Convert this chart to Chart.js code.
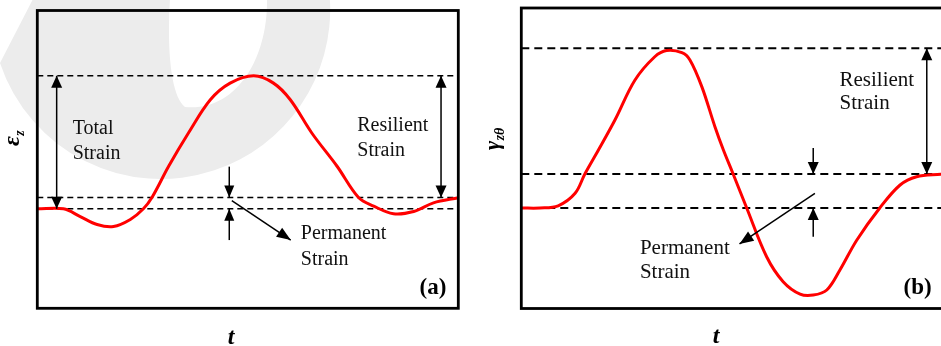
<!DOCTYPE html>
<html><head><meta charset="utf-8">
<script src="https://cdn.jsdelivr.net/npm/chart.js@4/dist/chart.umd.min.js"></script>
<style>
html,body{margin:0;padding:0;background:#fff;overflow:hidden;width:941px;height:346px;}
#wa{position:absolute;left:0;top:0;width:470px;height:346px;}
#wb{position:absolute;left:470px;top:0;width:500px;height:346px;}
canvas{display:block;}
</style></head><body>
<div id="wa"><canvas id="ca" width="470" height="346"></canvas></div>
<div id="wb"><canvas id="cb" width="500" height="346"></canvas></div>
<script>
// ---- Panel (a): axial strain eps_z vs time t ----
const timeA   = [0, 0.62, 1.02, 1.42, 1.81, 2.21, 2.52, 2.73, 3.12, 3.59, 4.11, 4.58, 5.14, 5.61, 6.01, 6.52, 7.12, 7.63, 7.99, 8.46, 8.94, 9.41, 10];
const strainA = [0, 0, -0.058, -0.118, -0.133, -0.080, 0, 0.089, 0.32, 0.57, 0.82, 0.945, 1.0, 0.945, 0.82, 0.57, 0.32, 0.085, 0.02, -0.037, -0.020, 0.045, 0.083];
const levelsA = [1.0, 0.085, 0];      // peak, end (permanent), start

// ---- Panel (b): shear strain gamma_ztheta vs time t ----
const timeB   = [0, 0.44, 0.87, 1.27, 1.50, 1.82, 2.21, 2.68, 3.15, 3.43, 3.79, 3.98, 4.26, 4.57, 4.77, 5.00, 5.32, 5.79, 6.18, 6.58, 6.89, 7.21, 7.52, 7.92, 8.46, 8.94, 9.33, 9.90, 10];
const strainB = [0, 0, 0.014, 0.092, 0.213, 0.363, 0.551, 0.80, 0.947, 0.986, 0.972, 0.927, 0.760, 0.509, 0.363, 0.213, 0, -0.305, -0.461, -0.539, -0.545, -0.513, -0.388, -0.200, 0, 0.144, 0.196, 0.211, 0.213];
const levelsB = [1.0, 0.213, 0];

const SERIF = '"Liberation Serif","Times New Roman",serif';

function head(ctx, fx, fy, tx, ty, L, W) {
  const a = Math.atan2(ty - fy, tx - fx), c = Math.cos(a), s = Math.sin(a);
  ctx.beginPath();
  ctx.moveTo(tx, ty);
  ctx.lineTo(tx - L * c + W / 2 * s, ty - L * s - W / 2 * c);
  ctx.lineTo(tx - L * c - W / 2 * s, ty - L * s + W / 2 * c);
  ctx.closePath();
  ctx.fill();
}

const notesPlugin = {
  id: 'strainNotes',
  beforeDraw(chart, args, o) {
    if (!o.watermark) return;
    const ctx = chart.ctx;
    ctx.save();
    ctx.fillStyle = '#ececec';
    ctx.beginPath();
    ctx.moveTo(33, -1);
    ctx.lineTo(0, 63);
    ctx.arc(160.8, 9.6, 169.4, 2.82, -0.0567, true);
    ctx.lineTo(267, -1);
    ctx.bezierCurveTo(268, 60, 235, 112, 185, 107);
    ctx.bezierCurveTo(170, 95, 167, 45, 170, -1);
    ctx.closePath();
    ctx.fill();
    ctx.restore();
  },
  afterDraw(chart, args, o) {
    const ctx = chart.ctx, ca = chart.chartArea, X = chart.scales.x, Y = chart.scales.y;
    ctx.save();
    // frame
    ctx.strokeStyle = '#000';
    ctx.lineWidth = 2.8;
    ctx.strokeRect(ca.left, ca.top, ca.right - ca.left, ca.bottom - ca.top);
    // arrows
    ctx.fillStyle = '#000';
    ctx.lineWidth = 1.5;
    for (const a of o.arrows) {
      const x1 = X.getPixelForValue(a.from[0]), y1 = Y.getPixelForValue(a.from[1]);
      const x2 = X.getPixelForValue(a.to[0]), y2 = Y.getPixelForValue(a.to[1]);
      ctx.beginPath(); ctx.moveTo(x1, y1); ctx.lineTo(x2, y2); ctx.stroke();
      head(ctx, x1, y1, x2, y2, a.L || 12, a.W || 10);
      if (a.both) head(ctx, x2, y2, x1, y1, a.L || 12, a.W || 10);
    }
    // texts
    ctx.textBaseline = 'alphabetic';
    ctx.textAlign = 'left';
    ctx.fillStyle = '#111';
    ctx.font = o.textSize + 'px ' + SERIF;
    for (const t of o.texts) {
      ctx.fillText(t.text, X.getPixelForValue(t.at[0]), Y.getPixelForValue(t.at[1]));
    }
    // panel tag
    ctx.fillStyle = '#000';
    ctx.font = 'bold 23px ' + SERIF;
    ctx.textAlign = 'right';
    ctx.fillText(o.tag, ca.right - o.tagInset[0], ca.bottom - o.tagInset[1]);
    // x-axis title
    ctx.font = 'italic bold 24px ' + SERIF;
    ctx.textAlign = 'center';
    ctx.fillText(o.xTitle, o.xTitlePos[0], o.xTitlePos[1]);
    // y-axis title (rotated, with subscript)
    ctx.translate(o.yTitlePos[0], o.yTitlePos[1]);
    ctx.rotate(-Math.PI / 2);
    ctx.textAlign = 'left';
    ctx.font = 'italic bold ' + o.yMainSize + 'px ' + SERIF;
    ctx.fillText(o.yMain, 0, 0);
    const w = ctx.measureText(o.yMain).width;
    ctx.font = 'italic bold 14px ' + SERIF;
    ctx.fillText(o.ySub, w + 0.5, 5);
    ctx.restore();
  }
};

function xy(xs, ys) { return xs.map((x, i) => ({ x: x, y: ys[i] })); }

function makeChart(id, times, strains, levels, cfg) {
  const datasets = [{
    data: xy(times, strains), borderColor: '#ff0000', borderWidth: 3,
    pointRadius: 0, tension: 0.35, fill: false
  }];
  levels.forEach(l => datasets.push({
    data: [{ x: 0, y: l }, { x: 10, y: l }], borderColor: '#000',
    borderWidth: cfg.dashWidth, borderDash: cfg.dash, pointRadius: 0, fill: false
  }));
  return new Chart(document.getElementById(id), {
    type: 'line',
    data: { datasets: datasets },
    options: {
      responsive: false, animation: false, events: [],
      layout: { padding: cfg.padding },
      scales: {
        x: { type: 'linear', min: 0, max: 10, display: false },
        y: { type: 'linear', min: cfg.ymin, max: cfg.ymax, display: false }
      },
      plugins: { legend: { display: false }, tooltip: { enabled: false }, strainNotes: cfg.notes }
    },
    plugins: [notesPlugin]
  });
}

makeChart('ca', timeA, strainA, levelsA, {
  padding: { left: 37.3, top: 10.5, right: 11.7, bottom: 37.7 },
  ymin: -0.748, ymax: 1.491, dash: [6, 4], dashWidth: 1.4,
  notes: {
    watermark: true,
    textSize: 20,
    tag: '(a)', tagInset: [12, 14.5],
    xTitle: 't', xTitlePos: [231, 344],
    yMain: 'ε', ySub: 'z', yMainSize: 24, yTitlePos: [18.5, 146],
    arrows: [
      { from: [0.46, 1.0], to: [0.46, 0], both: true, L: 12, W: 11 },
      { from: [9.59, 1.0], to: [9.59, 0.085], both: true, L: 12, W: 11 },
      { from: [4.56, 0.317], to: [4.56, 0.085], L: 12, W: 10 },
      { from: [4.56, -0.235], to: [4.56, 0], L: 12, W: 10 },
      { from: [4.62, 0.061], to: [6.02, -0.235], L: 14, W: 11 }
    ],
    texts: [
      { text: 'Total', at: [0.84, 0.564] },
      { text: 'Strain', at: [0.84, 0.374] },
      { text: 'Resilient', at: [7.60, 0.587] },
      { text: 'Strain', at: [7.60, 0.397] },
      { text: 'Permanent', at: [6.26, -0.227] },
      { text: 'Strain', at: [6.26, -0.423] }
    ]
  }
});

makeChart('cb', timeB, strainB, levelsB, {
  padding: { left: 51.3, top: 8, right: 25, bottom: 37.5 },
  ymin: -0.629, ymax: 1.252, dash: [8, 5], dashWidth: 2,
  notes: {
    watermark: false,
    textSize: 21,
    tag: '(b)', tagInset: [13.3, 14.5],
    xTitle: 't', xTitlePos: [246, 343],
    yMain: 'γ', ySub: 'zθ', yMainSize: 22, yTitlePos: [28.5, 150],
    arrows: [
      { from: [9.57, 1.0], to: [9.57, 0.213], both: true, L: 12, W: 11 },
      { from: [6.89, 0.376], to: [6.89, 0.213], L: 12, W: 11 },
      { from: [6.89, -0.18], to: [6.89, 0], L: 12, W: 11 },
      { from: [6.93, 0.092], to: [5.15, -0.225], L: 14, W: 11 }
    ],
    texts: [
      { text: 'Resilient', at: [7.51, 0.766] },
      { text: 'Strain', at: [7.51, 0.618] },
      { text: 'Permanent', at: [2.80, -0.288] },
      { text: 'Strain', at: [2.80, -0.436] }
    ]
  }
});
</script>
</body></html>
